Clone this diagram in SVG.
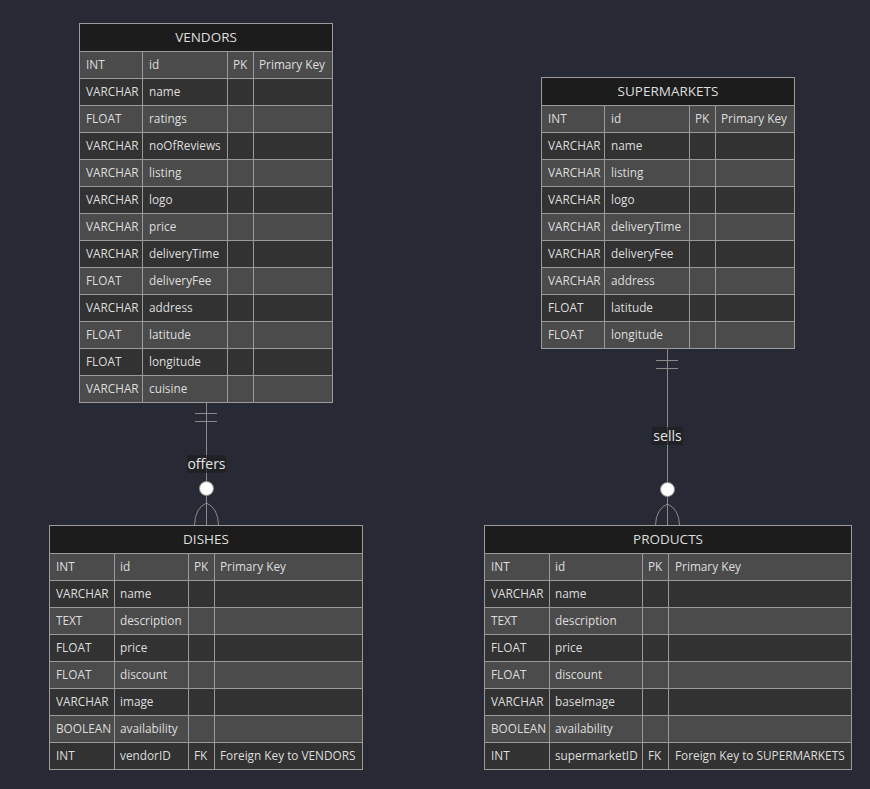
<svg xmlns="http://www.w3.org/2000/svg" width="870" height="789" viewBox="0 0 870 789">
<style>
  .bg{fill:#272a35}
  .hd{fill:#1c1c1c;stroke:#9a9a9a;stroke-width:1}
  .ro{fill:#4b4b4b;stroke:#9a9a9a;stroke-width:1}
  .re{fill:#323232;stroke:#9a9a9a;stroke-width:1}
  .cl{stroke:#9a9a9a;stroke-width:1}
  .ht{font-family:"Open Sans","Liberation Sans",sans-serif;font-size:13.5px;fill:#dedede;text-anchor:middle}
  .t{font-family:"Open Sans","Liberation Sans",sans-serif;font-size:11.8px;fill:#dedede}
  .ln{stroke:#8a8a8a;stroke-width:1;fill:none}
  .lb{fill:#1e1e1e;opacity:0.7}
  .lt{font-family:"Open Sans","Liberation Sans",sans-serif;font-size:14px;fill:#e6e6e6;text-anchor:middle}
</style>
<rect class="bg" x="0" y="0" width="870" height="789"/>

<!-- VENDORS table -->
<g id="VENDORS">
  <rect class="hd" x="79.5" y="23.5" width="253" height="28"/>
  <text class="ht" x="206" y="42">VENDORS</text>
  <rect class="ro" x="79.5" y="51.5" width="253" height="27"/>
  <rect class="re" x="79.5" y="78.5" width="253" height="27"/>
  <rect class="ro" x="79.5" y="105.5" width="253" height="27"/>
  <rect class="re" x="79.5" y="132.5" width="253" height="27"/>
  <rect class="ro" x="79.5" y="159.5" width="253" height="27"/>
  <rect class="re" x="79.5" y="186.5" width="253" height="27"/>
  <rect class="ro" x="79.5" y="213.5" width="253" height="27"/>
  <rect class="re" x="79.5" y="240.5" width="253" height="27"/>
  <rect class="ro" x="79.5" y="267.5" width="253" height="27"/>
  <rect class="re" x="79.5" y="294.5" width="253" height="27"/>
  <rect class="ro" x="79.5" y="321.5" width="253" height="27"/>
  <rect class="re" x="79.5" y="348.5" width="253" height="27"/>
  <rect class="ro" x="79.5" y="375.5" width="253" height="27"/>
  <path class="cl" d="M142.5,51.5V402.5M227.5,51.5V402.5M253.5,51.5V402.5"/>
  <g class="t">
    <text x="86" y="69">INT</text><text x="149" y="69">id</text><text x="233" y="69">PK</text><text x="259" y="69">Primary Key</text>
    <text x="86" y="96">VARCHAR</text><text x="149" y="96">name</text>
    <text x="86" y="123">FLOAT</text><text x="149" y="123">ratings</text>
    <text x="86" y="150">VARCHAR</text><text x="149" y="150">noOfReviews</text>
    <text x="86" y="177">VARCHAR</text><text x="149" y="177">listing</text>
    <text x="86" y="204">VARCHAR</text><text x="149" y="204">logo</text>
    <text x="86" y="231">VARCHAR</text><text x="149" y="231">price</text>
    <text x="86" y="258">VARCHAR</text><text x="149" y="258">deliveryTime</text>
    <text x="86" y="285">FLOAT</text><text x="149" y="285">deliveryFee</text>
    <text x="86" y="312">VARCHAR</text><text x="149" y="312">address</text>
    <text x="86" y="339">FLOAT</text><text x="149" y="339">latitude</text>
    <text x="86" y="366">FLOAT</text><text x="149" y="366">longitude</text>
    <text x="86" y="393">VARCHAR</text><text x="149" y="393">cuisine</text>
  </g>
</g>

<!-- SUPERMARKETS table -->
<g id="SUPERMARKETS">
  <rect class="hd" x="541.5" y="77.5" width="253" height="28"/>
  <text class="ht" x="668" y="96">SUPERMARKETS</text>
  <rect class="ro" x="541.5" y="105.5" width="253" height="27"/>
  <rect class="re" x="541.5" y="132.5" width="253" height="27"/>
  <rect class="ro" x="541.5" y="159.5" width="253" height="27"/>
  <rect class="re" x="541.5" y="186.5" width="253" height="27"/>
  <rect class="ro" x="541.5" y="213.5" width="253" height="27"/>
  <rect class="re" x="541.5" y="240.5" width="253" height="27"/>
  <rect class="ro" x="541.5" y="267.5" width="253" height="27"/>
  <rect class="re" x="541.5" y="294.5" width="253" height="27"/>
  <rect class="ro" x="541.5" y="321.5" width="253" height="27"/>
  <path class="cl" d="M604.5,105.5V348.5M689.5,105.5V348.5M715.5,105.5V348.5"/>
  <g class="t">
    <text x="548" y="123">INT</text><text x="611" y="123">id</text><text x="695" y="123">PK</text><text x="721" y="123">Primary Key</text>
    <text x="548" y="150">VARCHAR</text><text x="611" y="150">name</text>
    <text x="548" y="177">VARCHAR</text><text x="611" y="177">listing</text>
    <text x="548" y="204">VARCHAR</text><text x="611" y="204">logo</text>
    <text x="548" y="231">VARCHAR</text><text x="611" y="231">deliveryTime</text>
    <text x="548" y="258">VARCHAR</text><text x="611" y="258">deliveryFee</text>
    <text x="548" y="285">VARCHAR</text><text x="611" y="285">address</text>
    <text x="548" y="312">FLOAT</text><text x="611" y="312">latitude</text>
    <text x="548" y="339">FLOAT</text><text x="611" y="339">longitude</text>
  </g>
</g>

<!-- DISHES table -->
<g id="DISHES">
  <rect class="hd" x="49.5" y="525.5" width="313" height="28"/>
  <text class="ht" x="206" y="544">DISHES</text>
  <rect class="ro" x="49.5" y="553.5" width="313" height="27"/>
  <rect class="re" x="49.5" y="580.5" width="313" height="27"/>
  <rect class="ro" x="49.5" y="607.5" width="313" height="27"/>
  <rect class="re" x="49.5" y="634.5" width="313" height="27"/>
  <rect class="ro" x="49.5" y="661.5" width="313" height="27"/>
  <rect class="re" x="49.5" y="688.5" width="313" height="27"/>
  <rect class="ro" x="49.5" y="715.5" width="313" height="27"/>
  <rect class="re" x="49.5" y="742.5" width="313" height="27"/>
  <path class="cl" d="M114.5,553.5V769.5M188.5,553.5V769.5M214.5,553.5V769.5"/>
  <g class="t">
    <text x="56" y="571">INT</text><text x="120" y="571">id</text><text x="194" y="571">PK</text><text x="220" y="571">Primary Key</text>
    <text x="56" y="598">VARCHAR</text><text x="120" y="598">name</text>
    <text x="56" y="625">TEXT</text><text x="120" y="625">description</text>
    <text x="56" y="652">FLOAT</text><text x="120" y="652">price</text>
    <text x="56" y="679">FLOAT</text><text x="120" y="679">discount</text>
    <text x="56" y="706">VARCHAR</text><text x="120" y="706">image</text>
    <text x="56" y="733">BOOLEAN</text><text x="120" y="733">availability</text>
    <text x="56" y="760">INT</text><text x="120" y="760">vendorID</text><text x="194" y="760">FK</text><text x="220" y="760">Foreign Key to VENDORS</text>
  </g>
</g>

<!-- PRODUCTS table -->
<g id="PRODUCTS">
  <rect class="hd" x="484.5" y="525.5" width="367" height="28"/>
  <text class="ht" x="668" y="544">PRODUCTS</text>
  <rect class="ro" x="484.5" y="553.5" width="367" height="27"/>
  <rect class="re" x="484.5" y="580.5" width="367" height="27"/>
  <rect class="ro" x="484.5" y="607.5" width="367" height="27"/>
  <rect class="re" x="484.5" y="634.5" width="367" height="27"/>
  <rect class="ro" x="484.5" y="661.5" width="367" height="27"/>
  <rect class="re" x="484.5" y="688.5" width="367" height="27"/>
  <rect class="ro" x="484.5" y="715.5" width="367" height="27"/>
  <rect class="re" x="484.5" y="742.5" width="367" height="27"/>
  <path class="cl" d="M549.5,553.5V769.5M642.5,553.5V769.5M668.5,553.5V769.5"/>
  <g class="t">
    <text x="491" y="571">INT</text><text x="555" y="571">id</text><text x="648" y="571">PK</text><text x="675" y="571">Primary Key</text>
    <text x="491" y="598">VARCHAR</text><text x="555" y="598">name</text>
    <text x="491" y="625">TEXT</text><text x="555" y="625">description</text>
    <text x="491" y="652">FLOAT</text><text x="555" y="652">price</text>
    <text x="491" y="679">FLOAT</text><text x="555" y="679">discount</text>
    <text x="491" y="706">VARCHAR</text><text x="555" y="706">baseImage</text>
    <text x="491" y="733">BOOLEAN</text><text x="555" y="733">availability</text>
    <text x="491" y="760">INT</text><text x="555" y="760">supermarketID</text><text x="648" y="760">FK</text><text x="675" y="760">Foreign Key to SUPERMARKETS</text>
  </g>
</g>

<!-- relationships -->
<g id="connectors">
  <!-- VENDORS exactly-one to zero-or-more DISHES -->
  <path class="ln" d="M206.5,403V525"/>
  <path class="ln" d="M195,413.5H217M195,421.5H217"/>
  <path class="ln" d="M206.5,503Q195,508 194.5,525M206.5,503Q218,508 218.5,525"/>
  <circle cx="206.5" cy="488.5" r="7" fill="#ffffff" stroke="#8a8a8a" stroke-width="1"/>
  <rect class="lb" x="187" y="455" width="39" height="18"/>
  <text class="lt" x="206.5" y="468.5">offers</text>

  <!-- SUPERMARKETS exactly-one to zero-or-more PRODUCTS -->
  <path class="ln" d="M667.5,349V525"/>
  <path class="ln" d="M656,360.5H678M656,368.5H678"/>
  <path class="ln" d="M667.5,504Q656,509 655.5,525M667.5,504Q679,509 679.5,525"/>
  <circle cx="667.5" cy="489.5" r="7" fill="#ffffff" stroke="#8a8a8a" stroke-width="1"/>
  <rect class="lb" x="652" y="427" width="31" height="18"/>
  <text class="lt" x="667.5" y="441">sells</text>
</g>
</svg>
